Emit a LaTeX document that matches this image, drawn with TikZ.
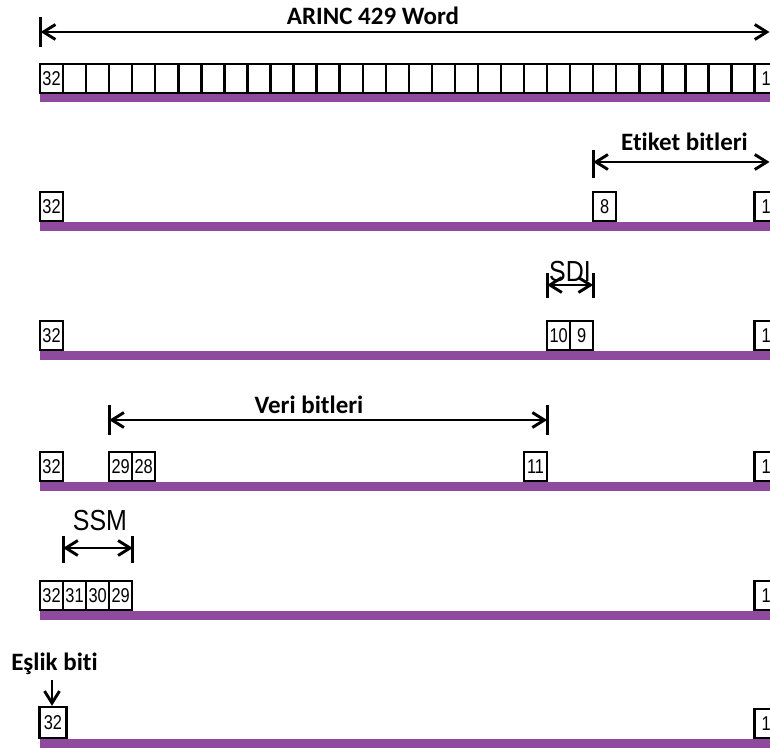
\documentclass[tikz,border=0pt]{standalone}
\usepackage{fontspec}
\newfontfamily\calfont{Carlito}[Ligatures=NoCommon]
\newfontfamily\arialfont{Liberation Sans}
\usetikzlibrary{arrows.meta,calc}
\definecolor{barpurple}{RGB}{142,74,156}
\newcommand{\bitnum}[1]{\scalebox{0.82}[1]{#1}}
\newcommand{\condtxt}[1]{\scalebox{0.86}[1]{#1}}
\begin{document}
\begin{tikzpicture}[x=1pt,y=-1pt,
  bitbox/.style={draw, line width=2.4pt, minimum width=23.05pt, minimum height=29pt,
     inner sep=0pt, font=\arialfont\fontsize{20}{20}\selectfont},
  bigbox/.style={bitbox, minimum width=27pt, minimum height=31pt},
  lbl/.style={anchor=base, inner sep=0pt, font=\calfont\bfseries\fontsize{25}{28}\selectfont},
  albl/.style={anchor=base, inner sep=0pt, font=\arialfont\fontsize{29}{30}\selectfont},
  tip/.tip={Straight Barb[length=12pt,width=15pt]},
  dimline/.style={line width=2.9pt, tip-tip},
  rdimline/.style={line width=2.9pt, -tip},
  tickline/.style={line width=2.9pt},
  purplebar/.style={fill=barpurple}
]
\clip (0,0) rectangle (770,749);
\fill[white] (0,0) rectangle (770,749);

% purple bars
\fill[purplebar] (40,93.5) rectangle (775,102.5);
\fill[purplebar] (40,221.5) rectangle (775,230.5);
\fill[purplebar] (40,350.5) rectangle (775,359.5);
\fill[purplebar] (40,481.5) rectangle (775,490.5);
\fill[purplebar] (40,610.5) rectangle (775,619.5);
\fill[purplebar] (40,738.5) rectangle (775,747.5);

% Row 1: full word
\node[bitbox] (r1b32) at (51.525,78.5) {\bitnum{32}};
\foreach \n in {2,...,31} {
  \node[bitbox] (r1b\n) at ({51.525+(32-\n)*23.05},78.5) {};
}
\node[bitbox] (r1b1) at (766.075,78.5) {\bitnum{1}};
\coordinate (a1l) at (40.7,32);
\coordinate (a1r) at (769.5,32);
\draw[dimline] (a1l) -- (a1r);
\draw[tickline] ($(a1l)+(0,-15)$) -- ($(a1l)+(0,15)$);
\node[lbl] (t1) at (373,25) {ARINC 429 Word};

% Row 2: label bits
\node[bitbox] (r2b32) at (51.525,206.5) {\bitnum{32}};
\node[bitbox] (r2b8) at (604.725,206.5) {\bitnum{8}};
\node[bitbox] (r2b1) at (766.075,206.5) {\bitnum{1}};
\coordinate (a2l) at (593.2,162);
\coordinate (a2r) at (769.5,162);
\draw[dimline] (a2l) -- (a2r);
\draw[tickline] ($(a2l)+(0,-12)$) -- ($(a2l)+(0,16)$);
\node[lbl] (t2) at (684.5,150.7) {Etiket bitleri};

% Row 3: SDI
\node[bitbox] (r3b32) at (51.525,335.5) {\bitnum{32}};
\node[bitbox] (r3b10) at (558.625,335.5) {\bitnum{10}};
\node[bitbox] (r3b9) at (581.675,335.5) {\bitnum{9}};
\node[bitbox] (r3b1) at (766.075,335.5) {\bitnum{1}};
\coordinate (a3l) at (547.1,285);
\coordinate (a3r) at (593.2,285);
\draw[dimline] (a3l) -- (a3r);
\draw[tickline] ($(a3l)+(0,-12)$) -- ($(a3l)+(0,13)$);
\draw[tickline] ($(a3r)+(0,-12)$) -- ($(a3r)+(0,13)$);
\node[albl] (t3) at (570,281.7) {\condtxt{SDI}};

% Row 4: data bits
\node[bitbox] (r4b32) at (51.525,466.5) {\bitnum{32}};
\node[bitbox] (r4b29) at (120.675,466.5) {\bitnum{29}};
\node[bitbox] (r4b28) at (143.725,466.5) {\bitnum{28}};
\node[bitbox] (r4b11) at (535.575,466.5) {\bitnum{11}};
\node[bitbox] (r4b1) at (766.075,466.5) {\bitnum{1}};
\coordinate (a4l) at (109.2,420);
\coordinate (a4r) at (547.1,420);
\draw[dimline] (a4l) -- (a4r);
\draw[tickline] ($(a4l)+(0,-15)$) -- ($(a4l)+(0,15)$);
\draw[tickline] ($(a4r)+(0,-15)$) -- ($(a4r)+(0,15)$);
\node[lbl] (t4) at (309,413) {Veri bitleri};

% Row 5: SSM
\node[bitbox] (r5b32) at (51.525,595.5) {\bitnum{32}};
\node[bitbox] (r5b31) at (74.575,595.5) {\bitnum{31}};
\node[bitbox] (r5b30) at (97.625,595.5) {\bitnum{30}};
\node[bitbox] (r5b29) at (120.675,595.5) {\bitnum{29}};
\node[bitbox] (r5b1) at (766.075,595.5) {\bitnum{1}};
\coordinate (a5l) at (63.1,548);
\coordinate (a5r) at (132.8,548);
\draw[dimline] (a5l) -- (a5r);
\draw[tickline] ($(a5l)+(0,-12)$) -- ($(a5l)+(0,15)$);
\draw[tickline] ($(a5r)+(0,-12)$) -- ($(a5r)+(0,15)$);
\node[albl] (t5) at (100,530) {\condtxt{SSM}};

% Row 6: parity bit
\node[bigbox] (r6b32) at (53,722.5) {\bitnum{32}};
\node[bitbox] (r6b1) at (766.075,723.5) {\bitnum{1}};
\node[lbl] (t6) at (54.5,670) {Eşlik biti};
\coordinate (p6) at (52,680);
\draw[rdimline] (p6) -- (p6 |- r6b32.north);
\end{tikzpicture}
\end{document}
